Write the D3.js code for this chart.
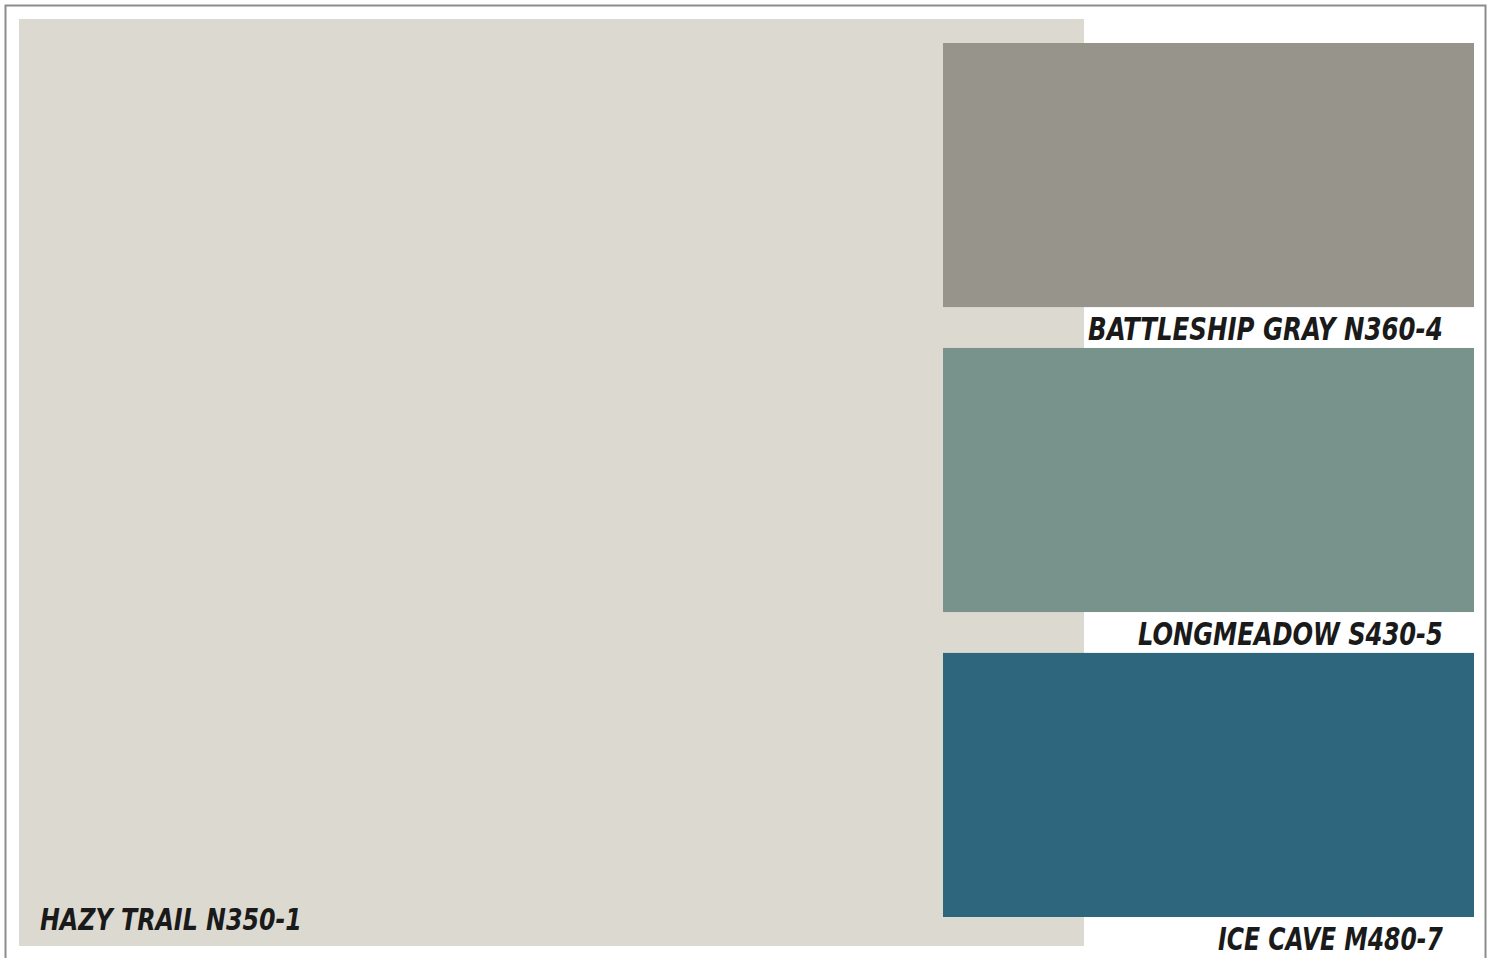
<!DOCTYPE html>
<html>
<head>
<meta charset="utf-8">
<script src="https://cdn.jsdelivr.net/npm/d3@7"></script>
<style>
  html, body { margin: 0; padding: 0; background: #ffffff; }
  svg { display: block; }
</style>
</head>
<body>
<svg id="chart" width="1493" height="958"></svg>
<script>
// Data
const mainName = "HAZY TRAIL N350-1";
const mainColor = "#dcdad0";
const accentNames = ["BATTLESHIP GRAY N360-4", "LONGMEADOW S430-5", "ICE CAVE M480-7"];
const accentColors = ["#97948c", "#78938b", "#2e667e"];
const accentLabelWidths = [355, 305, 225];

const svg = d3.select("#chart");

// outer frame
svg.append("rect")
  .attr("x", 5.5).attr("y", 5.5)
  .attr("width", 1480).attr("height", 960)
  .attr("fill", "#ffffff")
  .attr("stroke", "#8c8c8c").attr("stroke-width", 2);

// main swatch
svg.append("rect")
  .attr("x", 19).attr("y", 19)
  .attr("width", 1065).attr("height", 927)
  .attr("fill", mainColor);

// band scale for accent swatches
const y = d3.scaleBand()
  .domain(accentNames)
  .range([43, 917])
  .paddingInner(0.134)
  .paddingOuter(0);

const xLeft = 943, xRight = 1474;

svg.selectAll("rect.accent")
  .data(accentNames)
  .join("rect")
  .attr("class", "accent")
  .attr("x", xLeft)
  .attr("y", d => y(d))
  .attr("width", xRight - xLeft)
  .attr("height", y.bandwidth())
  .attr("fill", (d, i) => accentColors[i]);

const fontFam = "'Liberation Sans Narrow', 'DejaVu Sans Condensed', 'Liberation Sans', sans-serif";

function fitText(sel, width) {
  sel.each(function () {
    const n = this.getComputedTextLength();
    const x = +this.getAttribute("x"), yy = +this.getAttribute("y");
    const sx = width / n;
    this.setAttribute("transform", `translate(${x},${yy}) scale(${sx},1) translate(${-x},${-yy})`);
  });
}

// accent labels (right-aligned below each swatch)
const labelRight = 1443;
svg.selectAll("text.accentLabel")
  .data(accentNames)
  .join("text")
  .attr("class", "accentLabel")
  .attr("x", (d, i) => labelRight - accentLabelWidths[i])
  .attr("y", d => y(d) + y.bandwidth() + 33)
  .style("font-family", fontFam)
  .style("font-weight", "bold")
  .style("font-style", "italic")
  .style("font-size", "32px")
  .attr("fill", "#1a1a1a")
  .text(d => d)
  .each(function (d, i) { fitText(d3.select(this), accentLabelWidths[i]); });

// main label
svg.append("text")
  .attr("x", 40)
  .attr("y", 930)
  .style("font-family", fontFam)
  .style("font-weight", "bold")
  .style("font-style", "italic")
  .style("font-size", "30px")
  .attr("fill", "#1a1a1a")
  .text(mainName)
  .call(s => fitText(s, 262));
</script>
</body>
</html>
